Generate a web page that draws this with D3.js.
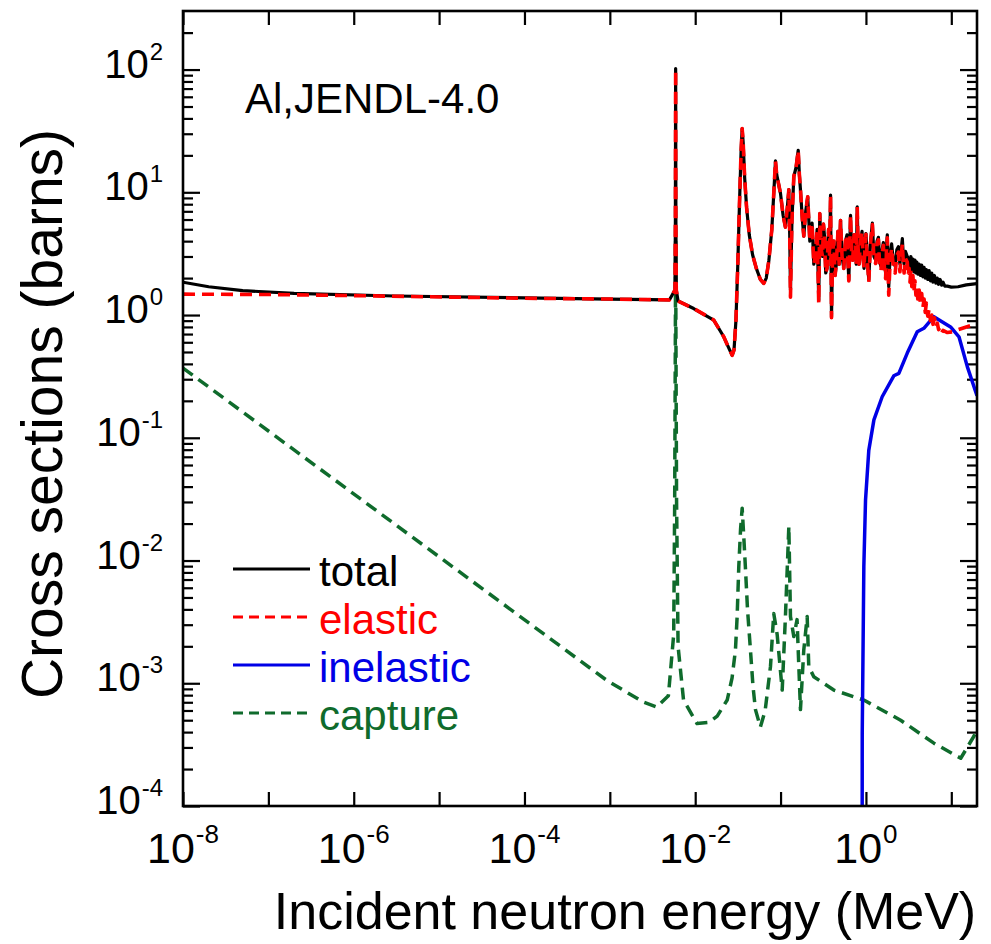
<!DOCTYPE html>
<html>
<head>
<meta charset="utf-8">
<script src="https://cdn.jsdelivr.net/npm/d3@7/dist/d3.min.js"></script>
<style>
  body { margin: 0; background: #fff; }
  text { font-family: "Liberation Sans", Arial, Helvetica, sans-serif; }
</style>
</head>
<body>
<svg id="chart" width="991" height="944"></svg>
<script>
// cross sections: [energy (MeV), sigma (barns)]
var totalXS = [
  [1e-8,1.85],[2e-8,1.70],[5e-8,1.58],[2e-7,1.50],[3e-6,1.43],[1e-4,1.38],[1e-3,1.35],[5.0e-3,1.33],
  [5.80e-3,1.6],[5.86e-3,6],[5.9e-3,102],[5.94e-3,6],[6.0e-3,1.6],[6.3e-3,1.3],
  [9.6e-3,1.13],[0.0165,0.91],[0.0216,0.665],[0.025,0.53],[0.0271,0.47],[0.0285,0.52],[0.030,0.9],
  [0.0315,2.5],[0.033,8],[0.0345,22],[0.0355,33],[0.0365,25],[0.038,13],[0.040,7.5],[0.043,4.5],
  [0.047,3.1],[0.052,2.4],[0.058,1.95],[0.0635,1.81],[0.068,2.0],[0.073,2.8],[0.079,5],[0.084,11],
  [0.0871,18],[0.090,14],[0.0998,9.8],[0.107,6.5],[0.114,5.2],[0.12,7.5],[0.125,10.5],[0.128,4.5],
  [0.1306,1.6],[0.136,6],[0.143,13.5],[0.152,16],[0.161,22],[0.166,14],[0.171,10.5],[0.18,6.0],
  [0.187,4.4],[0.197,7.0],[0.208,9.2],[0.22,4.0],[0.234,5.6],[0.245,2.6],[0.256,3.0],[0.268,5.0],
  [0.28,1.32],[0.288,6.7],[0.298,3.5],[0.31,3.0],[0.318,5.5],[0.327,4.4],[0.338,2.2],[0.35,2.4],
  [0.365,5.0],[0.375,3.0],[0.385,9.5],[0.395,0.97],[0.407,3.2],[0.42,4.0],[0.435,2.1],[0.45,2.6],
  [0.47,4.8],[0.485,2.6],[0.504,5.9],[0.525,3.0],[0.55,2.4],[0.575,4.0],[0.6,4.5],[0.615,2.8],
  [0.63,1.93],[0.645,3.5],[0.66,6.5],[0.68,3.2],[0.7,2.8],[0.725,4.5],[0.75,4.2],[0.77,2.6],
  [0.791,7.6],[0.81,3.5],[0.83,2.6],[0.865,4.0],[0.9,4.8],[0.925,2.9],[0.95,2.4],[0.975,3.6],
  [1.0,4.6],[1.04,2.8],[1.08,1.93],[1.13,3.9],[1.19,5.6],[1.24,3.0],[1.3,2.8],[1.35,4.0],[1.4,4.3],
  [1.45,2.7],[1.5,2.5],[1.55,3.4],[1.6,3.9],[1.65,2.6],[1.7,2.2],[1.74,3.6],[1.78,4.5],[1.82,2.4],
  [1.85,1.7],[1.92,3.1],[2.0,3.8],[2.1,2.7],[2.2,2.5],[2.3,3.4],[2.4,3.6],[2.5,2.6],[2.6,3.5],
  [2.67,4.2],[2.75,2.9],[2.8,2.6],[2.9,3.3],[3.05,3.0],[3.12,2.5],[3.2,2.9],[3.28,2.35],[3.36,3.0],
  [3.45,2.3],[3.55,2.85],[3.65,2.25],[3.75,2.8],[3.85,2.2],[3.95,2.7],[4.05,2.15],[4.2,2.6],
  [4.35,2.1],[4.5,2.55],[4.65,2.05],[4.8,2.45],[4.95,2.0],[5.1,2.35],[5.3,1.95],[5.5,2.3],[5.7,1.9],
  [5.9,2.2],[6.1,1.85],[6.35,2.1],[6.6,1.82],[6.85,2.0],[7.1,1.78],[7.4,1.95],[7.7,1.75],[8.0,1.85],
  [8.4,1.72],[9.0,1.72],[10,1.69],[12,1.70],[15,1.76],[20,1.8]
];
var elasticXS = [
  [1e-8,1.48],[1e-7,1.47],[1e-6,1.44],[1e-4,1.37],[1e-3,1.35],[5.0e-3,1.33],
  [5.80e-3,1.6],[5.86e-3,6],[5.9e-3,100],[5.94e-3,6],[6.0e-3,1.6],[6.3e-3,1.3],
  [9.6e-3,1.13],[0.0165,0.91],[0.0216,0.665],[0.025,0.53],[0.0271,0.47],[0.0285,0.52],[0.030,0.9],
  [0.0315,2.5],[0.033,8],[0.0345,22],[0.0355,33],[0.0365,25],[0.038,13],[0.040,7.5],[0.043,4.5],
  [0.047,3.1],[0.052,2.4],[0.058,1.95],[0.0635,1.81],[0.068,2.0],[0.073,2.8],[0.079,5],[0.084,11],
  [0.0871,18],[0.090,14],[0.0998,9.8],[0.107,6.5],[0.114,5.2],[0.12,7.5],[0.125,10.5],[0.128,4.5],
  [0.1306,1.4],[0.136,6],[0.143,13.5],[0.152,16],[0.161,22],[0.166,14],[0.171,10.5],[0.18,6.0],
  [0.187,4.4],[0.197,7.0],[0.208,9.2],[0.22,4.0],[0.234,5.6],[0.245,2.6],[0.256,3.0],[0.268,5.0],
  [0.28,1.25],[0.288,6.7],[0.298,3.5],[0.31,3.0],[0.318,5.5],[0.327,4.4],[0.338,2.2],[0.35,2.4],
  [0.365,5.0],[0.375,3.0],[0.385,9.5],[0.395,0.95],[0.407,3.2],[0.42,4.0],[0.435,2.1],[0.45,2.6],
  [0.47,4.8],[0.485,2.6],[0.504,5.9],[0.525,3.0],[0.55,2.4],[0.575,4.0],[0.6,4.5],[0.615,2.8],
  [0.63,1.9],[0.645,3.5],[0.66,6.5],[0.68,3.2],[0.7,2.8],[0.725,4.5],[0.75,4.2],[0.77,2.6],
  [0.791,7.6],[0.81,3.5],[0.83,2.6],[0.865,4.0],[0.9,4.8],[0.925,2.9],[0.95,2.4],[0.975,3.6],
  [1.0,4.55],[1.04,2.75],[1.08,1.86],[1.13,3.8],[1.19,5.45],[1.24,2.85],[1.3,2.63],[1.35,3.8],
  [1.4,4.1],[1.45,2.5],[1.5,2.3],[1.55,3.2],[1.6,3.7],[1.65,2.35],[1.7,1.98],[1.74,3.35],[1.78,4.25],
  [1.82,2.15],[1.85,1.45],[1.92,2.8],[2.0,3.5],[2.1,2.4],[2.2,2.2],[2.3,3.05],[2.4,3.25],[2.5,2.25],
  [2.6,3.15],[2.67,3.8],[2.75,2.5],[2.8,2.2],[2.9,2.9],[3.05,2.7],[3.12,2.1],[3.2,2.4],[3.28,1.85],
  [3.36,2.3],[3.45,1.7],[3.55,2.1],[3.65,1.55],[3.75,1.9],[3.85,1.45],[3.95,1.75],[4.05,1.35],
  [4.2,1.6],[4.35,1.25],[4.5,1.5],[4.65,1.15],[4.8,1.35],[4.95,1.05],[5.1,1.25],[5.3,0.98],
  [5.5,1.12],[5.7,0.9],[5.9,1.0],[6.1,0.84],[6.35,0.95],[6.6,0.8],[6.85,0.86],[7.1,0.76],[7.4,0.8],
  [7.7,0.72],[8.0,0.75],[9.0,0.72],[10.4,0.73],[12,0.76],[15,0.8],[20,0.85]
];
var inelasticXS = [
  [0.900,1e-6],[0.905,3.9e-4],[0.945,8.9e-3],[0.989,0.031],[1.08,0.079],[1.24,0.14],[1.55,0.216],
  [2.12,0.32],[2.43,0.335],[3.05,0.49],[3.99,0.73],[4.77,0.78],[6.25,0.97],[9.8,0.80],[12.3,0.665],
  [15.4,0.38],[20,0.22]
];
var captureXS = [
  [1e-8,0.37],[9.3e-4,1.05e-3],[1.6e-3,8.4e-4],[2.5e-3,7.0e-4],[3.55e-3,6.4e-4],[4.85e-3,7.9e-4],
  [5.6e-3,2.5e-3],[5.75e-3,0.03],[5.85e-3,0.6],[5.9e-3,4],[5.95e-3,0.6],[6.05e-3,0.03],[6.3e-3,2.0e-3],
  [7.3e-3,7.3e-4],[0.0105,4.7e-4],[0.0145,4.8e-4],[0.0181,5.4e-4],[0.0237,7.3e-4],[0.027,1.1e-3],
  [0.0296,1.86e-3],[0.031,3.5e-3],[0.0324,8.9e-3],[0.034,0.018],[0.0355,0.0267],[0.037,0.016],
  [0.0387,8.9e-3],[0.041,4e-3],[0.0444,1.86e-3],[0.0475,9.5e-4],[0.0508,6.1e-4],[0.058,4.4e-4],
  [0.066,6e-4],[0.0762,1.37e-3],[0.0832,3.7e-3],[0.0912,2.5e-3],[0.1045,8.8e-4],[0.114,3.5e-3],
  [0.125,0.0189],[0.1306,3.5e-3],[0.143,2.4e-3],[0.156,3.3e-3],[0.171,6.1e-4],[0.187,1.86e-3],
  [0.205,3.5e-3],[0.214,1.37e-3],[0.245,1.13e-3],[0.42,8.8e-4],[0.944,7.3e-4],[2.55,5.0e-4],
  [6.25,3.25e-4],[12.9,2.45e-4],[18.4,3.7e-4],[20,4.2e-4]
];

var legendNames = ["total", "elastic", "inelastic", "capture"];
var seriesColors = ["#000000", "#ff0000", "#0000e6", "#0f6b2c"];
var seriesDash = [null, "12,7", null, "12,7"];
var seriesWidth = [3.2, 3.6, 3.5, 3.5];
var xLabelExps = [-8, -6, -4, -2, 0];
var yLabelExps = [-4, -3, -2, -1, 0, 1, 2];

var plotLeft = 183, plotRight = 977, plotTop = 11, plotBottom = 806;

var svg = d3.select("#chart");

var x = d3.scaleLog().domain([1e-8, 20]).range([plotLeft, plotRight]);
var y = d3.scaleLog().domain([1e-4, 300]).range([plotBottom, plotTop]);

svg.append("clipPath").attr("id", "plotclip")
  .append("rect")
  .attr("x", plotLeft).attr("y", plotTop)
  .attr("width", plotRight - plotLeft).attr("height", plotBottom - plotTop);

// ticks
var xMajors = d3.range(-8, 2).map(function (e) { return Math.pow(10, e); });
var yMajors = d3.range(-4, 3).map(function (e) { return Math.pow(10, e); });
var yMinors = [];
yMajors.forEach(function (m) {
  for (var k = 2; k <= 9; k++) {
    if (m * k < 300) yMinors.push(m * k);
  }
});

function styleAxis(g) {
  g.select(".domain").remove();
  g.selectAll(".tick line").attr("stroke", "#000").attr("stroke-width", 2.2);
  g.selectAll(".tick text").remove();
}

svg.append("g").attr("transform", "translate(0," + plotBottom + ")")
  .call(d3.axisBottom(x).tickValues(xMajors).tickSize(-14)).call(styleAxis);
svg.append("g").attr("transform", "translate(0," + plotTop + ")")
  .call(d3.axisTop(x).tickValues(xMajors).tickSize(-14)).call(styleAxis);
svg.append("g").attr("transform", "translate(" + plotLeft + ",0)")
  .call(d3.axisLeft(y).tickValues(yMajors).tickSize(-17)).call(styleAxis);
svg.append("g").attr("transform", "translate(" + plotLeft + ",0)")
  .call(d3.axisLeft(y).tickValues(yMinors).tickSize(-10)).call(styleAxis);
svg.append("g").attr("transform", "translate(" + plotRight + ",0)")
  .call(d3.axisRight(y).tickValues(yMajors).tickSize(-17)).call(styleAxis);
svg.append("g").attr("transform", "translate(" + plotRight + ",0)")
  .call(d3.axisRight(y).tickValues(yMinors).tickSize(-10)).call(styleAxis);

// curves
var line = d3.line()
  .x(function (d) { return x(d[0]); })
  .y(function (d) { return y(d[1]); });

var plot = svg.append("g").attr("clip-path", "url(#plotclip)");
var allSeries = [totalXS, elasticXS, inelasticXS, captureXS];
var drawOrder = [3, 2, 0, 1];
drawOrder.forEach(function (i) {
  plot.append("path")
    .datum(allSeries[i])
    .attr("d", line)
    .attr("fill", "none")
    .attr("stroke", seriesColors[i])
    .attr("stroke-width", seriesWidth[i])
    .attr("stroke-dasharray", seriesDash[i])
    .attr("stroke-linejoin", "round");
});

// frame
svg.append("rect")
  .attr("x", plotLeft).attr("y", plotTop)
  .attr("width", plotRight - plotLeft).attr("height", plotBottom - plotTop)
  .attr("fill", "none").attr("stroke", "#000").attr("stroke-width", 2.6);

// x tick labels: whole "10^n" centred on the tick
xLabelExps.forEach(function (e) {
  var cx = x(Math.pow(10, e));
  var base = svg.append("text")
    .attr("y", 863)
    .attr("font-size", 43)
    .text("10");
  var sup = svg.append("text")
    .attr("y", 843)
    .attr("font-size", 26)
    .text(e);
  var wb = base.node().getComputedTextLength();
  var ws = sup.node().getComputedTextLength();
  var x0 = cx - (wb + ws + 1) / 2;
  base.attr("x", x0);
  sup.attr("x", x0 + wb + 1);
});

// y tick labels, right aligned
yLabelExps.forEach(function (e) {
  var cy = y(Math.pow(10, e));
  var sup = svg.append("text")
    .attr("x", 163).attr("y", cy - 10)
    .attr("text-anchor", "end")
    .attr("font-size", 24)
    .text(e);
  var w = sup.node().getComputedTextLength();
  svg.append("text")
    .attr("x", 163 - w - 1).attr("y", cy + 8)
    .attr("text-anchor", "end")
    .attr("font-size", 40)
    .text("10");
});

// axis titles
svg.append("text")
  .attr("x", 625).attr("y", 929)
  .attr("text-anchor", "middle")
  .attr("font-size", 52)
  .text("Incident neutron energy (MeV)");

svg.append("text")
  .attr("transform", "translate(62,414) rotate(-90)")
  .attr("text-anchor", "middle")
  .attr("font-size", 57)
  .text("Cross sections (barns)");

svg.append("text")
  .attr("x", 245).attr("y", 113)
  .attr("font-size", 42)
  .text("Al,JENDL-4.0");

// legend
var legend = svg.append("g");
legendNames.forEach(function (name, i) {
  var by = 586 + i * 48;
  legend.append("line")
    .attr("x1", 233).attr("x2", 310)
    .attr("y1", by - 17).attr("y2", by - 17)
    .attr("stroke", seriesColors[i])
    .attr("stroke-width", 3.2)
    .attr("stroke-dasharray", seriesDash[i] ? "10,6" : null);
  legend.append("text")
    .attr("x", 319).attr("y", by)
    .attr("font-size", 42)
    .attr("fill", seriesColors[i])
    .text(name);
});
</script>
</body>
</html>
